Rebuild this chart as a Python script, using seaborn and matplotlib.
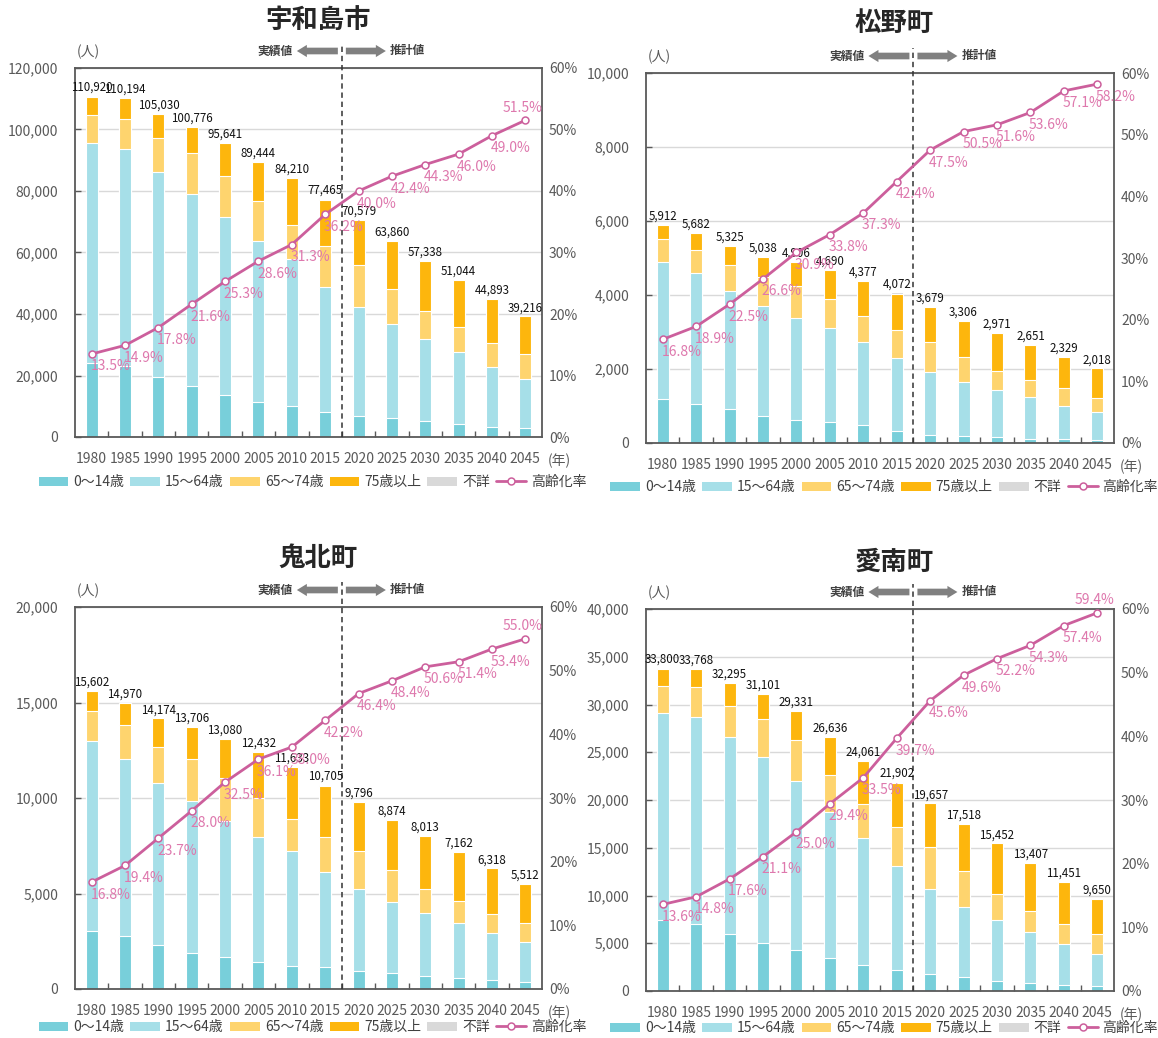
import numpy as np
import pandas as pd
import matplotlib
matplotlib.use("Agg")
import matplotlib.pyplot as plt
from matplotlib.patches import Patch
from matplotlib.lines import Line2D
from matplotlib.transforms import offset_copy
from matplotlib.ticker import FuncFormatter, FixedLocator
import seaborn as sns

# ---------------------------------------------------------------- data
years = ["1980", "1985", "1990", "1995", "2000", "2005", "2010",
         "2015", "2020", "2025", "2030", "2035", "2040", "2045"]

group_labels = ["0〜14歳", "15〜64歳", "65〜74歳", "75歳以上", "不詳"]
rate_label = "高齢化率"

# 宇和島市
uwajima_total = [110920, 110194, 105030, 100776, 95641, 89444, 84210,
                 77465, 70579, 63860, 57338, 51044, 44893, 39216]
uwajima_0_14 = [24000, 23000, 19400, 16500, 13500, 11500, 10000,
                8100, 6900, 6200, 5100, 4100, 3400, 2800]
uwajima_15_64 = [71750, 70674, 66880, 62456, 57891, 52314, 47750,
                 40825, 35449, 30580, 26838, 23464, 19493, 16216]
uwajima_65_74 = [9000, 9900, 11100, 13300, 13500, 12900, 11200,
                 13100, 13600, 11200, 9200, 8300, 7800, 7900]
uwajima_75 = [5970, 6520, 7600, 8470, 10700, 12680, 15160,
              14940, 14630, 15880, 16200, 15180, 14200, 12300]
uwajima_unknown = [200, 100, 50, 50, 50, 50, 100, 500, 0, 0, 0, 0, 0, 0]
uwajima_rate = [13.5, 14.9, 17.8, 21.6, 25.3, 28.6, 31.3,
                36.2, 40.0, 42.4, 44.3, 46.0, 49.0, 51.5]

# 松野町
matsuno_total = [5912, 5682, 5325, 5038, 4906, 4690, 4377,
                 4072, 3679, 3306, 2971, 2651, 2329, 2018]
matsuno_0_14 = [1190, 1045, 920, 740, 630, 570, 480,
                330, 225, 190, 155, 120, 115, 75]
matsuno_15_64 = [3709, 3553, 3200, 2953, 2755, 2530, 2254,
                 1975, 1706, 1446, 1283, 1110, 884, 769]
matsuno_65_74 = [620, 615, 695, 790, 870, 785, 705,
                 745, 810, 690, 520, 460, 480, 380]
matsuno_75 = [373, 459, 503, 550, 646, 800, 928,
              982, 938, 980, 1013, 961, 850, 794]
matsuno_unknown = [20, 10, 7, 5, 5, 5, 10, 40, 0, 0, 0, 0, 0, 0]
matsuno_rate = [16.8, 18.9, 22.5, 26.6, 30.9, 33.8, 37.3,
                42.4, 47.5, 50.5, 51.6, 53.6, 57.1, 58.2]

# 鬼北町
kihoku_total = [15602, 14970, 14174, 13706, 13080, 12432, 11633,
                10705, 9796, 8874, 8013, 7162, 6318, 5512]
kihoku_0_14 = [3014, 2750, 2280, 1880, 1655, 1410, 1220,
               1150, 960, 836, 680, 560, 490, 370]
kihoku_15_64 = [9947, 9306, 8525, 7978, 7164, 6524, 5982,
                4977, 4291, 3743, 3278, 2921, 2454, 2110]
kihoku_65_74 = [1570, 1740, 1880, 2170, 2230, 2050, 1720,
                1840, 2000, 1650, 1300, 1150, 1000, 1000]
kihoku_75 = [1051, 1164, 1479, 1668, 2021, 2438, 2701,
             2678, 2545, 2645, 2755, 2531, 2374, 2032]
kihoku_unknown = [20, 10, 10, 10, 10, 10, 10, 60, 0, 0, 0, 0, 0, 0]
kihoku_rate = [16.8, 19.4, 23.7, 28.0, 32.5, 36.1, 38.0,
               42.2, 46.4, 48.4, 50.6, 51.4, 53.4, 55.0]

# 愛南町
ainan_total = [33800, 33768, 32295, 31101, 29331, 26636, 24061,
               21902, 19657, 17518, 15452, 13407, 11451, 9650]
ainan_0_14 = [7480, 7060, 5940, 5030, 4260, 3460, 2690,
              2170, 1750, 1430, 1050, 870, 660, 490]
ainan_15_64 = [21673, 21680, 20651, 19489, 17718, 15325, 13291,
               10887, 8943, 7399, 6336, 5257, 4218, 3428]
ainan_65_74 = [2800, 3100, 3300, 3950, 4300, 3800, 3550,
               4100, 4430, 3700, 2800, 2300, 2100, 2000]
ainan_75 = [1797, 1898, 2384, 2612, 3033, 4031, 4510,
            4595, 4534, 4989, 5266, 4980, 4473, 3732]
ainan_unknown = [50, 30, 20, 20, 20, 20, 20, 150, 0, 0, 0, 0, 0, 0]
ainan_rate = [13.6, 14.8, 17.6, 21.1, 25.0, 29.4, 33.5,
              39.7, 45.6, 49.6, 52.2, 54.3, 57.4, 59.4]

# ---------------------------------------------------------------- style
sns.set_style("white")
plt.rcParams["font.family"] = ["Noto Sans CJK JP", "DejaVu Sans"]
plt.rcParams["axes.unicode_minus"] = False

C_0_14 = "#78CFDA"
C_15_64 = "#A6DFE8"
C_65_74 = "#FED46E"
C_75 = "#FDB60D"
C_UNK = "#D9D9D9"
C_LINE = "#CC5F9C"
C_PCT = "#DE78AD"
C_AXIS = "#595959"
C_TEXT = "#404040"

FIG_W, FIG_H = 1158, 1038
fig = plt.figure(figsize=(FIG_W / 100, FIG_H / 100), dpi=100)
fig.patch.set_facecolor("white")


def px_rect(left, top, right, bottom):
    return [left / FIG_W, 1 - bottom / FIG_H,
            (right - left) / FIG_W, (bottom - top) / FIG_H]


panels = [
    dict(name="宇和島市", total=uwajima_total, a0=uwajima_0_14, a15=uwajima_15_64,
         a65=uwajima_65_74, a75=uwajima_75, unk=uwajima_unknown, rate=uwajima_rate,
         box=(75, 68, 542, 437), ymax=120000, ystep=20000,
         title_xy=(318, 20), legend_y=482, last_above=True),
    dict(name="松野町", total=matsuno_total, a0=matsuno_0_14, a15=matsuno_15_64,
         a65=matsuno_65_74, a75=matsuno_75, unk=matsuno_unknown, rate=matsuno_rate,
         box=(646, 73, 1114, 443), ymax=10000, ystep=2000,
         title_xy=(894, 23), legend_y=487, last_above=False),
    dict(name="鬼北町", total=kihoku_total, a0=kihoku_0_14, a15=kihoku_15_64,
         a65=kihoku_65_74, a75=kihoku_75, unk=kihoku_unknown, rate=kihoku_rate,
         box=(75, 607, 542, 989), ymax=20000, ystep=5000,
         title_xy=(318, 558), legend_y=1027, last_above=True),
    dict(name="愛南町", total=ainan_total, a0=ainan_0_14, a15=ainan_15_64,
         a65=ainan_65_74, a75=ainan_75, unk=ainan_unknown, rate=ainan_rate,
         box=(646, 609, 1114, 991), ymax=40000, ystep=5000,
         title_xy=(894, 562), legend_y=1028, last_above=True),
]


def draw_panel(p):
    left, top, right, bottom = p["box"]
    w_px, h_px = right - left, bottom - top
    ax = fig.add_axes(px_rect(left, top, right, bottom))

    df = pd.DataFrame({
        "year": years,
        "a0": p["a0"], "a15": p["a15"], "a65": p["a65"],
        "a75": p["a75"], "unk": p["unk"],
    })
    df["c15"] = df["a0"] + df["a15"]
    df["c65"] = df["c15"] + df["a65"]
    df["c75"] = df["c65"] + df["a75"]
    df["call"] = df["c75"] + df["unk"]

    # stacked bars: tallest cumulative layer first, each next layer on top
    for col, colr in [("call", C_UNK), ("c75", C_75), ("c65", C_65_74),
                      ("c15", C_15_64), ("a0", C_0_14)]:
        sns.barplot(data=df, x="year", y=col, order=years, color=colr,
                    saturation=1, width=0.36, edgecolor="white",
                    linewidth=0.8, ax=ax, zorder=2)

    ax.set_xlim(-0.5, len(years) - 0.5)
    ax.set_ylim(0, p["ymax"])
    ax.set_xlabel("")
    ax.set_ylabel("")
    ax.yaxis.set_major_locator(FixedLocator(np.arange(0, p["ymax"] + 1, p["ystep"])))
    ax.yaxis.set_major_formatter(FuncFormatter(lambda v, _: f"{int(v):,}"))
    ax.grid(axis="y", color="#D9D9D9", lw=1.0)
    ax.grid(axis="x", visible=False)
    ax.set_axisbelow(True)
    for s in ax.spines.values():
        s.set_visible(True)
        s.set_color(C_AXIS)
        s.set_linewidth(1.3)
    ax.tick_params(axis="y", direction="in", length=4, width=1, color=C_AXIS,
                   labelsize=10, labelcolor=C_AXIS, pad=12, left=True)
    ax.tick_params(axis="x", which="major", length=0, labelsize=10,
                   labelcolor=C_AXIS, pad=11)
    ax.set_xticks(np.arange(0.5, len(years) - 1, 1.0), minor=True)
    ax.tick_params(axis="x", which="minor", direction="in", length=4,
                   width=1, color=C_AXIS, bottom=True)

    # total population labels
    for i, t in enumerate(p["total"]):
        ax.annotate(f"{t:,}", xy=(i, df["call"][i]), xytext=(0, 1.5),
                    textcoords="offset points", ha="center", va="bottom",
                    fontsize=8.3, color="#111111", zorder=6)

    # actual / projected divider
    xt = ax.get_xaxis_transform()
    ext = 1 + 25 / h_px
    ax.plot([7.5, 7.5], [0, ext], transform=xt, clip_on=False,
            ls=(0, (3.5, 2.5)), color="#333333", lw=1.1, zorder=5)
    cw = w_px / len(years)
    ya = 1 + 17 / h_px
    arrow_kw = dict(arrowstyle="simple,head_length=0.9,head_width=1.1,tail_width=0.6",
                    fc="#808080", ec="none", mutation_scale=8,
                    shrinkA=0, shrinkB=0)
    tip_l, tip_r = 7.5 - 45 / cw, 7.5 + 44 / cw
    ax.annotate("", xy=(tip_l, ya), xytext=(7.5 - 4 / cw, ya), xycoords=xt,
                textcoords=xt, arrowprops=arrow_kw, annotation_clip=False)
    ax.annotate("", xy=(tip_r, ya), xytext=(7.5 + 4 / cw, ya), xycoords=xt,
                textcoords=xt, arrowprops=arrow_kw, annotation_clip=False)
    ax.text(tip_l - 4 / cw, ya, "実績値", transform=xt, ha="right", va="center",
            fontsize=8.5, fontweight="bold", color=C_TEXT)
    ax.text(tip_r + 4 / cw, ya, "推計値", transform=xt, ha="left", va="center",
            fontsize=8.5, fontweight="bold", color=C_TEXT)

    # unit captions
    ax.text(0, 1, "(人)", transform=offset_copy(ax.transAxes, fig=fig, x=13, y=16, units="dots"),
            ha="center", va="center", fontsize=10, color=C_AXIS)
    ax.text(1, 0, "(年)", transform=offset_copy(ax.transAxes, fig=fig, x=6, y=-24, units="dots"),
            ha="left", va="center", fontsize=10, color=C_AXIS)

    # ageing rate on the secondary axis
    ax2 = ax.twinx()
    xs = np.arange(len(years))
    sns.lineplot(x=xs, y=p["rate"], ax=ax2, color=C_LINE, lw=2.0, marker="o",
                 markersize=5, markerfacecolor="white", markeredgecolor=C_LINE,
                 markeredgewidth=1.1, zorder=4)
    ax2.set_ylim(0, 60)
    ax2.yaxis.set_major_locator(FixedLocator(np.arange(0, 61, 10)))
    ax2.yaxis.set_major_formatter(FuncFormatter(lambda v, _: f"{int(v)}%"))
    ax2.tick_params(axis="y", length=0, labelsize=10, labelcolor=C_AXIS, pad=5)
    for s in ax2.spines.values():
        s.set_visible(False)
    ax2.set_xlim(ax.get_xlim())
    ax2.grid(False)
    n = len(years)
    for i, r in enumerate(p["rate"]):
        if i == n - 1 and p["last_above"]:
            ax2.annotate(f"{r:.1f}%", xy=(i, r), xytext=(-2, 9),
                         textcoords="offset points", ha="center", va="center",
                         fontsize=10, color=C_PCT, zorder=6)
        else:
            ax2.annotate(f"{r:.1f}%", xy=(i, r), xytext=(-1, -9),
                         textcoords="offset points", ha="left", va="center",
                         fontsize=10, color=C_PCT, zorder=6)

    # title
    tx, ty = p["title_xy"]
    fig.text(tx / FIG_W, 1 - ty / FIG_H, p["name"], ha="center", va="center",
             fontsize=19, fontweight="bold", color="#262626")

    # legend
    handles = [Patch(facecolor=c, edgecolor="none") for c in
               (C_0_14, C_15_64, C_65_74, C_75, C_UNK)]
    handles.append(Line2D([0], [0], color=C_LINE, lw=2.0, marker="o", markersize=5,
                          markerfacecolor="white", markeredgecolor=C_LINE,
                          markeredgewidth=1.1))
    ly = (bottom - p["legend_y"]) / h_px
    lx = ((left + right) / 2 + 4 - left) / w_px
    ax.legend(handles, group_labels + [rate_label], loc="center",
              bbox_to_anchor=(lx, ly), ncol=6, frameon=False, fontsize=10,
              handlelength=2.15, handleheight=0.6, handletextpad=0.35,
              columnspacing=0.45, labelcolor=C_TEXT, borderaxespad=0,
              borderpad=0)


for p in panels:
    draw_panel(p)

fig.savefig("out.png", dpi=100, facecolor="white")
